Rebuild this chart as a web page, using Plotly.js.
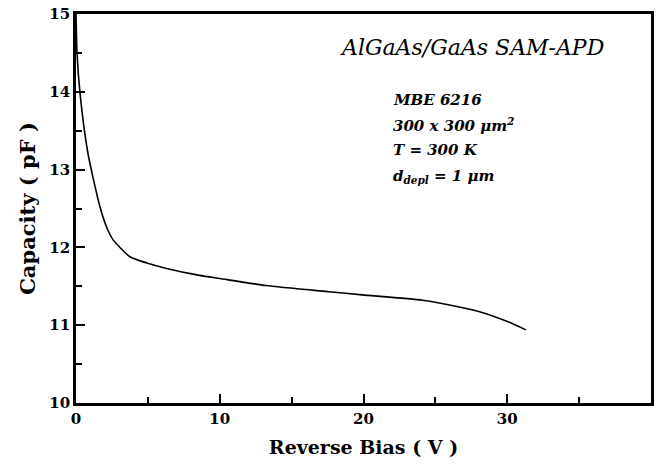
<!DOCTYPE html>
<html>
<head>
<meta charset="utf-8">
<script src="https://cdn.plot.ly/plotly-3.0.1.min.js"></script>
<style>html,body{margin:0;padding:0;background:#fff;}#chart{width:659px;height:470px;}</style>
</head>
<body>
<div id="chart"></div>
<script>
var biasV = [0, 0.07, 0.28, 0.83, 1.67, 2.22, 2.57, 3.75, 4.93, 6.3, 8.6, 10, 13.2, 17.6, 19.9, 24.1, 26.5, 28.3, 30.1, 31.3];
var capacityPF = [15.0, 14.5, 13.98, 13.21, 12.52, 12.22, 12.1, 11.88, 11.8, 11.73, 11.64, 11.6, 11.51, 11.43, 11.39, 11.32, 11.24, 11.16, 11.04, 10.94];
var xTicks = [0, 10, 20, 30, 40];
var yTicks = [10, 11, 12, 13, 14, 15];
var infoLines = ["MBE 6216", "300 x 300 μm<sup>2</sup>", "T = 300 K", "d<sub>depl</sub> = 1 μm"];
var deviceTitle = "AlGaAs/GaAs SAM-APD";

var serif = "DejaVu Serif";
var annotations = [{
  xref: "paper", yref: "paper", x: 0.689, y: 0.915, xanchor: "center", yanchor: "middle",
  text: "<i>" + deviceTitle + "</i>", showarrow: false,
  font: {family: serif, size: 22, color: "#000"}
}];
var infoY = [0.779, 0.715, 0.650, 0.581];
infoLines.forEach(function (t, i) {
  annotations.push({
    xref: "paper", yref: "paper", x: 0.548, y: infoY[i], xanchor: "left", yanchor: "middle",
    text: "<b><i>" + t + "</i></b>", showarrow: false,
    font: {family: serif, size: 15, color: "#000"}
  });
});

Plotly.newPlot("chart", [{
  x: biasV, y: capacityPF, type: "scatter", mode: "lines",
  line: {color: "#000", width: 1.6, shape: "spline", smoothing: 0.6}
}], {
  width: 659, height: 470,
  margin: {l: 76, r: 8, t: 14, b: 67},
  paper_bgcolor: "#fff", plot_bgcolor: "#fff",
  showlegend: false,
  font: {family: serif, color: "#000"},
  xaxis: {
    range: [0, 40], tickmode: "array", tickvals: xTicks, ticktext: xTicks.map(String),
    ticks: "inside", ticklen: 9, tickwidth: 2, tickcolor: "#000",
    minor: {dtick: 5, ticks: "inside", ticklen: 6, tickwidth: 1.6, tickcolor: "#000", showgrid: false},
    showline: true, linewidth: 2.8, linecolor: "#000", mirror: true,
    showgrid: false, zeroline: false,
    tickfont: {family: serif, size: 15, weight: "bold", color: "#000"},
    title: {text: "<b>Reverse Bias ( V )</b>", font: {family: serif, size: 19, color: "#000"}, standoff: 14}
  },
  yaxis: {
    range: [10, 15], tickmode: "array", tickvals: yTicks, ticktext: yTicks.map(String),
    ticks: "inside", ticklen: 9, tickwidth: 2, tickcolor: "#000",
    minor: {dtick: 0.5, ticks: "inside", ticklen: 6, tickwidth: 1.6, tickcolor: "#000", showgrid: false},
    showline: true, linewidth: 2.8, linecolor: "#000", mirror: true,
    showgrid: false, zeroline: false,
    tickfont: {family: serif, size: 15, weight: "bold", color: "#000"},
    title: {text: "<b>Capacity ( pF )</b>", font: {family: serif, size: 21, color: "#000"}, standoff: 8}
  },
  annotations: annotations
}, {displayModeBar: false});
</script>
</body>
</html>
